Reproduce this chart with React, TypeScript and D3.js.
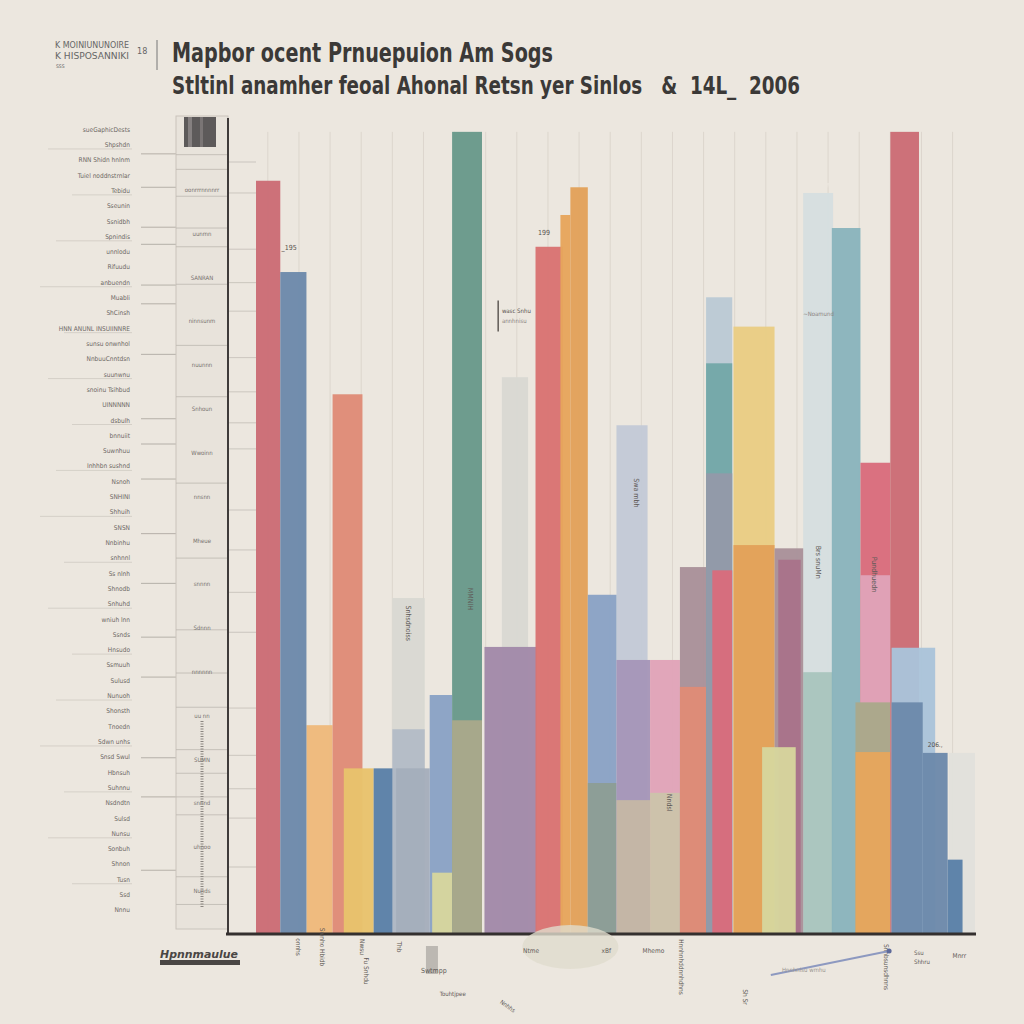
import * as d3 from 'd3';

// title texts (read as well as possible)
const titleLine1 = 'Mapbor ocent Prnuepuion Am Sogs';
const titleLine2 = 'Stltinl anamher feoal Ahonal Retsn yer Sinlos   &  14L_  2006';
const kickerLines = ['K MOINIUNUNOIRE', 'K HISPOSANNIKI'];

// bar segments: [start col, end col, low value, high value, colour key]
const segments: [number, number, number, number, string][] = [
  [46.2, 48.6, 0, 90.8, 'mist'],
  [46.2, 48.6, 0, 32.0, 'sage'],
  [13.2, 15.8, 0, 41.1, 'stone'],
  [22.0, 24.1, 0, 68.2, 'stone'],
  [6.3, 8.4, 0, 25.5, 'peach'],
  [57.9, 60, 0, 22.1, 'paper'],
  [31.2, 33.7, 0, 62.3, 'fog'],
  [38.4, 40.5, 0, 78.0, 'sky'],
  [2.25, 4.2, 0, 92.3, 'rose'],
  [4.2, 6.3, 0, 81.1, 'slate'],
  [8.4, 10.8, 0, 66.1, 'salmon'],
  [9.3, 11.7, 0, 20.2, 'mustard'],
  [11.7, 13.5, 0, 20.2, 'navy'],
  [13.2, 15.8, 0, 25.0, 'haze'],
  [13.5, 16.2, 0, 20.2, 'steel'],
  [16.2, 18.0, 0, 29.2, 'cornflower'],
  [16.4, 18.0, 0, 7.4, 'lime'],
  [18.0, 20.4, 0, 98.3, 'green'],
  [18.0, 20.4, 0, 26.1, 'olive'],
  [20.6, 24.8, 0, 35.1, 'plum'],
  [24.7, 26.9, 0, 84.2, 'coral'],
  [26.7, 27.5, 0, 88.1, 'amber'],
  [27.5, 28.9, 0, 91.5, 'orange'],
  [28.9, 31.2, 0, 41.5, 'cornflower'],
  [28.9, 31.2, 0, 18.4, 'moss'],
  [31.2, 33.9, 0, 33.5, 'lavender'],
  [31.2, 33.9, 0, 16.3, 'tan'],
  [33.9, 36.3, 0, 33.5, 'pink'],
  [33.9, 36.3, 0, 17.2, 'khaki'],
  [36.3, 38.9, 0, 44.9, 'mauve'],
  [36.3, 38.9, 0, 30.2, 'salmon'],
  [38.4, 40.5, 0, 69.9, 'teal'],
  [38.4, 40.5, 0, 56.4, 'dusk'],
  [38.9, 40.5, 0, 44.5, 'cherry'],
  [40.6, 43.9, 0, 74.4, 'butter'],
  [40.6, 43.9, 0, 47.6, 'orange'],
  [43.9, 46.2, 0, 47.2, 'mauve'],
  [44.2, 46.0, 0, 45.8, 'berry'],
  [42.9, 45.6, 0, 22.8, 'lime'],
  [48.5, 50.8, 0, 86.5, 'aqua'],
  [50.8, 53.2, 0, 57.7, 'cherry'],
  [50.8, 53.2, 0, 43.9, 'pink'],
  [50.4, 53.2, 0, 28.3, 'olive'],
  [50.4, 53.2, 0, 22.2, 'amber'],
  [53.2, 55.5, 0, 98.3, 'rose'],
  [53.3, 56.8, 0, 35.0, 'powder'],
  [53.3, 55.8, 0, 28.3, 'slate'],
  [55.8, 57.8, 0, 22.1, 'slate'],
  [57.8, 59.0, 0, 9.0, 'navy'],
];

const palette: Record<string, string> = {
  mist: '#d5dfe0', sage: '#a9c5bd', stone: '#d9d8d2', peach: '#eeb97b', paper: '#e1e1dc',
  fog: '#c3cad6', sky: '#bacad4', rose: '#cb6c75', slate: '#6c89ab', salmon: '#df8b77',
  mustard: '#e8c36c', navy: '#5a80a8', haze: '#b3bbc6', steel: '#a4aebb', cornflower: '#89a2c5',
  lime: '#d6d59d', green: '#68998a', olive: '#aaa98a', plum: '#a189a9', coral: '#d97271',
  amber: '#e6a55c', orange: '#e2a159', moss: '#8d9d95', lavender: '#a596b8', tan: '#c5b7a5',
  pink: '#e0a3b8', khaki: '#ccc3ab', mauve: '#a99199', teal: '#72a8a8', dusk: '#9399a9',
  cherry: '#d86c7c', butter: '#e9cd83', berry: '#a9728a', aqua: '#89b4bc', powder: '#aac4da',
};

// faint tick stubs on the value axis
const stubValues = [94.6, 90.8, 83.9, 79.8, 76.3, 70.6, 66.4, 62.6, 59.4, 51.9, 47.0, 41.8, 36.9, 27.6, 21.8, 17.7, 14.1, 8.1];
// faint vertical guides (column units)
const guideCols = d3.range(3.2, 60, 2.5);
// separators in the two side panels (values)
const panelRules = [95.6, 91.5, 86.6, 84.5, 79.5, 77.2, 71.0, 63.1, 60.0, 55.7, 49.0, 42.9, 36.3, 31.4, 21.5, 16.7, 7.7];
const stripRules = [95.5, 93.7, 90.4, 86.5, 84.2, 79.6, 72.1, 65.8, 55.2, 46.0, 37.2, 31.9, 27.7, 22.5, 19.6, 16.7, 14.5, 6.9, 3.5];

const leftLabels = [
  'sueGaphicDests', 'Shpshdn', 'RNN Shidn hnlnm', 'Tuiel noddnstrnlar', 'Tebidu', 'Sseunin',
  'Ssnidbh', 'Spnindis', 'unnlodu', 'Rifuudu', 'anbuendn', 'Muabli', 'ShCinsh',
  'HNN ANUNL INSUIINNRE', 'sunsu onwnhol', 'NnbuuCnntdsn', 'suunwnu', 'snoinu Tsihbud',
  'UINNNNN', 'dsbulh', 'bnnuiit', 'Suwnhuu', 'Inhhbn sushnd', 'Nsnoh', 'SNHINI', 'Shhuih',
  'SNSN', 'Nnbinhu', 'snhnnl', 'Ss nlnh', 'Shnodb', 'Snhuhd', 'wniuh lnn', 'Ssnds',
  'Hnsudo', 'Ssmuuh', 'Sulusd', 'Nunuoh', 'Shonsth', 'Tnoedn', 'Sdwn unhs', 'Snsd Swul',
  'Hbnsuh', 'Suhnnu', 'Nsdndtn', 'Sulsd', 'Nunsu', 'Sonbuh', 'Shnon', 'Tusn', 'Ssd', 'Nnnu',
];
const stripLabels = [
  'oonrrrnnnnrr', 'uunmn', 'SANRAN', 'ninnsunm', 'nuunnn', 'Snhoun', 'Wwoinn', 'nnsnn',
  'Mheue', 'snnnn', 'Sdnnn', 'nnnnnn', 'uu nn', 'SUMN', 'snnnd', 'uhnoo', 'Nunds',
];

const innerNotes: { text: string; col: number; value: number }[] = [
  { text: 'Snhsdnoiss', col: 14.3, value: 38 },
  { text: 'MMNlH', col: 19.3, value: 41 },
  { text: 'Swa mbh', col: 32.6, value: 54 },
  { text: 'Brs snuMn', col: 47.2, value: 45.5 },
  { text: 'Pundhuedn', col: 51.7, value: 44 },
  { text: 'Nndsl', col: 35.3, value: 16 },
];

const bottomLabels: { text: string; col: number; rot: number; dy: number }[] = [
  { text: 'onnhs', col: 5.5, rot: 90, dy: 14 },
  { text: 'Swnho Hbidb', col: 7.4, rot: 90, dy: 14 },
  { text: 'Nwsu', col: 10.6, rot: 90, dy: 14 },
  { text: 'Fu Snhdu', col: 10.9, rot: 90, dy: 38 },
  { text: 'Thb', col: 13.6, rot: 90, dy: 14 },
  { text: 'Ntme', col: 23.7, rot: 0, dy: 20 },
  { text: 'xBf', col: 30.0, rot: 0, dy: 20 },
  { text: 'Mhemo', col: 33.3, rot: 0, dy: 20 },
  { text: 'Hnnhnhddnnhdhns', col: 36.2, rot: 90, dy: 34 },
  { text: 'Sh Sr', col: 41.4, rot: 90, dy: 64 },
  { text: 'Snhbsunsdhnns', col: 52.7, rot: 90, dy: 34 },
  { text: 'Mnrr', col: 58.2, rot: 0, dy: 25 },
];

const x = d3.scaleLinear().domain([0, 60]).range([228, 975]);
const y = d3.scaleLinear().domain([0, 100]).range([933, 118]);
const leftBand = d3.scaleBand<number>().domain(d3.range(leftLabels.length)).range([122, 918]);
const stripBand = d3.scaleBand<number>().domain(d3.range(stripLabels.length)).range([170, 915]);

const smallFont = '"DejaVu Sans Condensed", "Liberation Sans Narrow", sans-serif';
const titleFont = '"Liberation Sans Narrow", "DejaVu Sans Condensed", sans-serif';

export default function App() {
  const base = y(0);
  return (
    <svg width={1024} height={1024} style={{ position: 'absolute', left: 0, top: 0 }}>
      <defs>
        <linearGradient id="fade" x1="0" y1="0" x2="0" y2="1">
          <stop offset="0" stopColor="#ece7df" stopOpacity="1" />
          <stop offset="0.12" stopColor="#ece7df" stopOpacity="0" />
        </linearGradient>
        <linearGradient id="tick" x1="0" y1="0" x2="0" y2="1">
          <stop offset="0" stopColor="#6e6a68" />
          <stop offset="0.18" stopColor="#6e6a68" />
          <stop offset="0.24" stopColor="#c46a78" />
          <stop offset="0.4" stopColor="#c46a78" />
          <stop offset="0.5" stopColor="#7c7676" />
          <stop offset="1" stopColor="#8a8582" />
        </linearGradient>
      </defs>
      <rect width={1024} height={1024} fill="#ece7df" />

      {/* heading */}
      <g fontFamily={smallFont} fill="#666">
        {kickerLines.map((t, i) => (
          <text key={t} x={55} y={48 + i * 11} fontSize={8} textLength={74} lengthAdjust="spacingAndGlyphs">{t}</text>
        ))}
        <text x={56} y={68} fontSize={5}>SSS</text>
        <text x={137} y={54} fontSize={9}>18</text>
      </g>
      <line x1={157} x2={157} y1={40} y2={70} stroke="#777" strokeWidth={1} />
      <g fontFamily={titleFont} fontWeight="bold" fill="#3b3937">
        <text x={172} y={62} fontSize={26} textLength={381} lengthAdjust="spacingAndGlyphs">{titleLine1}</text>
        <text x={172} y={94} fontSize={24} textLength={628} lengthAdjust="spacingAndGlyphs" style={{ whiteSpace: 'pre' }}>{titleLine2}</text>
      </g>

      {/* left label column */}
      <g fontFamily={smallFont} fontSize={6.5} fill="#6c6764" textAnchor="end">
        {leftLabels.map((t, i) => {
          const yy = leftBand(i)! + leftBand.bandwidth() / 2;
          return (
            <g key={i}>
              <text x={130} y={yy + 2}>{t}</text>
              {i % 3 === 1 && <line x1={40 + (i % 5) * 8} x2={132} y1={yy + 4} y2={yy + 4} stroke="#cfcac2" strokeWidth={0.8} />}
            </g>
          );
        })}
      </g>
      <line x1={141} x2={141} y1={118} y2={920} stroke="url(#tick)" strokeWidth={2.2} />
      {panelRules.map((v, i) => (
        <line key={i} x1={141} x2={176} y1={y(v)} y2={y(v)} stroke="#a7a29b" strokeWidth={0.8} />
      ))}

      {/* middle strip */}
      <rect x={176} y={116} width={52} height={base - 116 - 4} fill="#e8e3db" stroke="#c9c4bc" strokeWidth={1} />
      <rect x={184} y={117} width={32} height={30} fill="#5d5a5a" />
      <rect x={188} y={117} width={4} height={30} fill="#858080" />
      <rect x={200} y={117} width={3} height={30} fill="#7a7575" />
      {stripRules.map((v, i) => (
        <line key={i} x1={176} x2={228} y1={y(v)} y2={y(v)} stroke="#bdb8b0" strokeWidth={0.8} />
      ))}
      <g fontFamily={smallFont} fontSize={6} fill="#77726e" textAnchor="middle">
        {stripLabels.map((t, i) => (
          <text key={i} x={202} y={stripBand(i)! + stripBand.bandwidth() / 2}>{t}</text>
        ))}
      </g>
      <line x1={202} x2={202} y1={y(26)} y2={y(3)} stroke="#8a8580" strokeWidth={3} strokeDasharray="1 1.5" />

      {/* chart guides */}
      {guideCols.map((c, i) => (
        <line key={i} x1={x(c)} x2={x(c)} y1={y(98.3)} y2={base} stroke="#dcd6cd" strokeWidth={1} />
      ))}
      {stubValues.map((v, i) => (
        <line key={i} x1={x(0)} x2={x(2.25)} y1={y(v)} y2={y(v)} stroke="#c3beb6" strokeWidth={0.8} />
      ))}

      {/* bars */}
      {segments.map(([c0, c1, lo, hi, key], i) => (
        <rect key={i} x={x(c0)} y={y(hi)} width={x(c1) - x(c0)} height={y(lo) - y(hi)} fill={palette[key]} opacity={0.96} />
      ))}
      <rect x={x(46.2)} y={y(92)} width={x(48.6) - x(46.2)} height={40} fill="url(#fade)" />

      {/* notes in the plot */}
      <g fontFamily={smallFont} fontSize={7} fill="#55504c">
        <text x={x(4.3)} y={y(83.8)}>_195</text>
        <text x={x(24.9)} y={y(85.6)}>199</text>
        <line x1={x(21.7)} x2={x(21.7)} y1={y(77.6)} y2={y(73.8)} stroke="#55504c" strokeWidth={1.4} />
        <text x={x(22.0)} y={y(76.1)} fontSize={6}>wasc Snhu</text>
        <text x={x(22.0)} y={y(74.8)} fontSize={6} fill="#8a8480">annhnisu</text>
        <text x={x(46.2)} y={y(75.7)} fontSize={6} fill="#8a8480">~Noamund</text>
        <text x={x(56.2)} y={y(22.8)} fontSize={6.5}>206.,</text>
        {innerNotes.map((n, i) => (
          <text key={i} transform={`translate(${x(n.col)},${y(n.value)}) rotate(90)`} fontSize={7} textAnchor="middle" fill="#5f5a58">{n.text}</text>
        ))}
      </g>

      {/* axes */}
      <line x1={228} x2={228} y1={118} y2={base} stroke="#3f3b3a" strokeWidth={2} />
      <line x1={226} x2={976} y1={base + 1} y2={base + 1} stroke="#34302f" strokeWidth={3} />

      {/* under the axis */}
      <ellipse cx={x(27.5)} cy={base + 14} rx={48} ry={22} fill="#e0dccd" opacity={0.8} />
      <g fontFamily={smallFont} fontSize={7} fill="#5e5956">
        <text x={160} y={958} fontSize={10} fontStyle="italic" fontWeight="bold" fill="#4a4644" textLength={78} lengthAdjust="spacingAndGlyphs">Hpnnmaulue</text>
        <rect x={160} y={960} width={80} height={5} fill="#4a4644" />
        <rect x={x(15.9)} y={base + 13} width={12} height={28} fill="#bcb8b2" />
        <text x={x(15.5)} y={base + 40}>Swtmpp</text>
        <text x={x(17.0)} y={base + 63} fontSize={6}>Touhtjpee</text>
        <text transform={`translate(${x(21.8)},${base + 70}) rotate(35)`} fontSize={6}>Nnhhs</text>
        {bottomLabels.map((b, i) => (
          <text key={i} transform={`translate(${x(b.col)},${base + b.dy}) rotate(${b.rot})`} textAnchor={b.rot ? 'middle' : 'start'} fontSize={6.5}>{b.text}</text>
        ))}
        <line x1={x(43.6)} y1={base + 42} x2={x(53.1)} y2={base + 18} stroke="#8d99c0" strokeWidth={2} />
        <circle cx={x(53.1)} cy={base + 18} r={2.5} fill="#5e6a9a" />
        <text x={x(44.5)} y={base + 39} fontSize={6} fill="#9a958f">Hnnhnlsu wmhu</text>
        <text x={x(55.1)} y={base + 22} fontSize={6}>Ssu</text>
        <text x={x(55.1)} y={base + 31} fontSize={6}>Shhru</text>
      </g>
    </svg>
  );
}
